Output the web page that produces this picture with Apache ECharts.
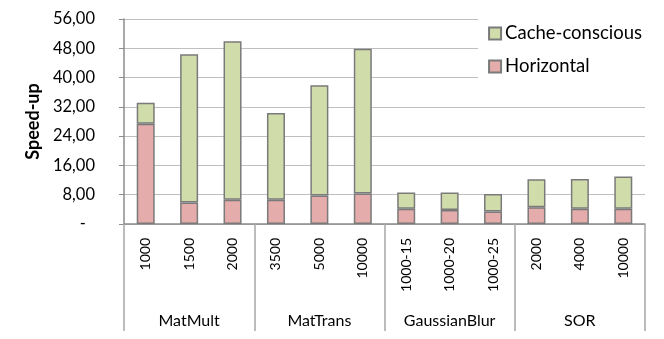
<!DOCTYPE html>
<html><head><meta charset="utf-8">
<script src="https://cdn.jsdelivr.net/npm/echarts@6/dist/echarts.min.js"></script>
<style>html,body{margin:0;padding:0;background:#fff}#c{width:664px;height:339px}</style>
</head><body><div id="c"></div>
<script>
const categories = ['1000','1500','2000','3500','5000','10000','1000-15','1000-20','1000-25','2000','4000','10000'];
const groups = ['MatMult','MatTrans','GaussianBlur','SOR'];
const horizontal = [27.4, 5.9, 6.6, 6.6, 7.8, 8.3, 4.2, 3.8, 3.4, 4.6, 4.2, 4.2];
const cacheConscious = [5.7, 40.5, 43.3, 23.7, 30.1, 39.6, 4.4, 4.8, 4.8, 7.6, 8.1, 8.8];
const yTicks = [0, 8, 16, 24, 32, 40, 48, 56];

const FONT = 'Lato';
const chart = echarts.init(document.getElementById('c'));
chart.setOption({
  animation: false,
  textStyle: {fontFamily: FONT},
  grid: {left: 124, right: 19, top: 19, bottom: 115, containLabel: false},
  legend: {
    right: 16, top: 18, orient: 'vertical', itemWidth: 12, itemHeight: 12, itemGap: 14,
    icon: 'rect',
    backgroundColor: '#fff', padding: [6, 6, 8, 10],
    textStyle: {fontFamily: FONT, fontSize: 18.5, color: '#000', padding: [0, 0, 0, -1]},
    data: ['Cache-conscious', 'Horizontal']
  },
  xAxis: [{
    type: 'category', data: categories, position: 'bottom',
    axisLine: {lineStyle: {color: '#8c8c8c', width: 1.5}},
    axisTick: {show: false},
    axisLabel: {rotate: 90, margin: 14, fontSize: 14, color: '#000', fontFamily: FONT, interval: 0}
  }, {
    type: 'category', data: groups, position: 'bottom',
    axisLine: {show: false},
    axisTick: {show: true, length: 107, lineStyle: {color: '#a6a6a6', width: 1.5}},
    axisLabel: {margin: 89, fontSize: 16, color: '#000', fontFamily: FONT, interval: 0}
  }],
  yAxis: {
    type: 'value', min: 0, max: 56, interval: 8,
    name: 'Speed-up', nameLocation: 'middle', nameGap: 80,
    nameTextStyle: {fontFamily: FONT, fontSize: 18, fontWeight: 'bold', color: '#000'},
    axisLine: {show: true, lineStyle: {color: '#8c8c8c', width: 1.5}},
    axisTick: {show: true, length: 5, lineStyle: {color: '#8c8c8c'}},
    splitLine: {lineStyle: {color: '#bfbfbf', width: 1.2}},
    axisLabel: {
      fontSize: 16.5, color: '#000', fontFamily: FONT, margin: 29,
      formatter: v => v === 0 ? '{d|-}' : v.toFixed(2).replace('.', ','),
      rich: {d: {fontSize: 16.5, fontFamily: FONT, color: '#000', padding: [0, 9, 0, 0]}}
    }
  },
  series: [{
    name: 'Horizontal', type: 'bar', stack: 's', data: horizontal, barWidth: 18,
    itemStyle: {color: '#E4ACAA', borderColor: '#7a7a7a', borderWidth: 1.5}
  }, {
    name: 'Cache-conscious', type: 'bar', stack: 's', data: cacheConscious, barWidth: 18,
    itemStyle: {color: '#D0DDAB', borderColor: '#7a7a7a', borderWidth: 1.5}
  }]
});
</script></body></html>
